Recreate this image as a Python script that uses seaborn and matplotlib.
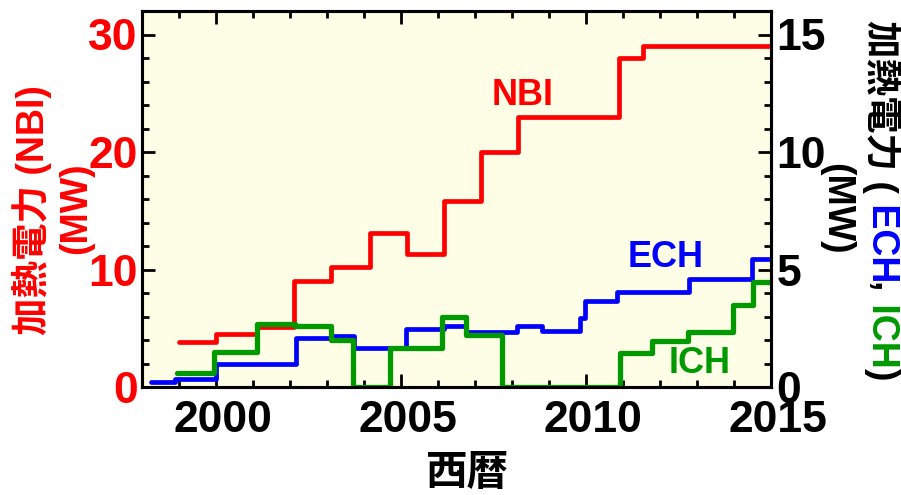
import matplotlib
matplotlib.use("Agg")
import matplotlib.pyplot as plt
from matplotlib.ticker import MultipleLocator
from matplotlib.transforms import ScaledTranslation
import seaborn as sns
import pandas as pd

# Heating power by year (step changes between campaigns)
nbi_years = [1999.0, 2000.0, 2001.1, 2002.1, 2003.1, 2004.15, 2005.15, 2006.15,
             2007.15, 2008.15, 2010.9, 2011.55, 2015.0]
nbi_power = [3.8, 4.5, 5.1, 9.0, 10.2, 13.1, 11.3, 15.8, 20.0, 23.0, 28.0, 29.0, 29.0]

ech_years = [1998.25, 1998.9, 2000.0, 2002.15, 2003.13, 2003.73, 2005.13, 2006.16,
             2006.77, 2008.13, 2008.82, 2009.84, 2009.97, 2010.83, 2012.78, 2014.48, 2015.0]
ech_power = [0.23, 0.34, 0.98, 2.09, 2.18, 1.67, 2.47, 2.6, 2.33, 2.6, 2.38, 2.95,
             3.66, 4.03, 4.58, 5.45, 5.45]

ich_years = [1998.95, 1999.95, 2001.11, 2002.14, 2003.10, 2003.71, 2004.70, 2006.12,
             2006.77, 2007.74, 2010.92, 2011.79, 2012.76, 2013.96, 2014.5, 2015.0]
ich_power = [0.58, 1.48, 2.67, 2.6, 2.0, 0.0, 1.67, 2.99, 2.21, 0.0, 1.46, 1.96,
             2.35, 3.49, 4.48, 4.48]

RED, BLUE, GREEN = "#ff0000", "#0000ff", "#009900"
BG = "#fefee6"
LATIN = "Liberation Sans"
MIXED = ["Liberation Sans", "Noto Sans CJK JP"]

sns.set_style("ticks")
plt.rcParams["font.family"] = MIXED
plt.rcParams["font.weight"] = "bold"
plt.rcParams["text.color"] = "black"
plt.rcParams["xtick.color"] = "black"
plt.rcParams["ytick.color"] = "black"

fig = plt.figure(figsize=(9.01, 4.95), dpi=100)
ax = fig.add_axes([142 / 901, 1 - 387 / 495, 629 / 901, 376 / 495])
ax.set_facecolor(BG)
ax2 = ax.twinx()

nbi = pd.DataFrame({"year": nbi_years, "power": nbi_power})
ech = pd.DataFrame({"year": ech_years, "power": ech_power})
ich = pd.DataFrame({"year": ich_years, "power": ich_power})

lw = 3.4
sns.lineplot(data=nbi, x="year", y="power", ax=ax, color=RED, lw=lw,
             drawstyle="steps-post", estimator=None, sort=False)
sns.lineplot(data=ech, x="year", y="power", ax=ax2, color=BLUE, lw=lw,
             drawstyle="steps-post", estimator=None, sort=False)
sns.lineplot(data=ich, x="year", y="power", ax=ax2, color=GREEN, lw=lw + 0.4,
             drawstyle="steps-post", estimator=None, sort=False)

ax.set_xlim(1998, 2015)
ax.set_ylim(0, 32)
ax2.set_ylim(0, 16)
ax.set_xlabel("")
ax.set_ylabel("")
ax2.set_xlabel("")
ax2.set_ylabel("")

ax.xaxis.set_major_locator(MultipleLocator(5))
ax.xaxis.set_minor_locator(MultipleLocator(1))
ax.yaxis.set_major_locator(MultipleLocator(10))
ax.yaxis.set_minor_locator(MultipleLocator(2))
ax2.yaxis.set_major_locator(MultipleLocator(5))
ax2.yaxis.set_minor_locator(MultipleLocator(1))

for a in (ax, ax2):
    for s in a.spines.values():
        s.set_linewidth(2.2)
        s.set_color("black")

ax.tick_params(axis="x", which="both", direction="in", top=True, bottom=True,
               width=2.0, color="black", labelcolor="black")
ax.tick_params(axis="x", which="major", length=9.5, pad=9)
ax.tick_params(axis="x", which="minor", length=5)
ax.tick_params(axis="y", which="both", direction="in", left=True, right=False,
               width=2.0, color="black", labelcolor=RED)
ax.tick_params(axis="y", which="major", length=9.5, pad=3)
ax.tick_params(axis="y", which="minor", length=5)
ax2.tick_params(axis="y", which="both", direction="in", right=True, left=False,
                width=2.0, color="black", labelcolor="black")
ax2.tick_params(axis="y", which="major", length=9.5, pad=4)
ax2.tick_params(axis="y", which="minor", length=5)

shift = ScaledTranslation(7 / 100, 0, fig.dpi_scale_trans)
for lab in ax.get_xticklabels():
    lab.set_fontsize(32)
    lab.set_fontweight("bold")
    lab.set_family(LATIN)
    lab.set_transform(lab.get_transform() + shift)
for lab in ax.get_yticklabels() + ax2.get_yticklabels():
    lab.set_fontsize(32)
    lab.set_fontweight("bold")
    lab.set_family(LATIN)

# Series names
label_kw = dict(fontsize=26, fontweight="bold", family=LATIN, ha="center", va="baseline")
ax.text(2008.3, 24.0, "NBI", color=RED, **label_kw)
ax2.text(2012.16, 5.11, "ECH", color=BLUE, **label_kw)
ax2.text(2013.08, 0.6, "ICH", color=GREEN, **label_kw)

# Axis titles
fig.text(467.5 / 901, 1 - 474 / 495, "西暦", fontsize=30, fontweight="bold",
         family=MIXED, ha="center", va="center", color="black")

ylab_kw = dict(fontsize=27, fontweight="bold", family=MIXED, ha="center", va="center")
fig.text(32 / 901, 1 - 210 / 495, "加熱電力 (NBI)", rotation=90, color=RED, **ylab_kw)
fig.text(76 / 901, 1 - 208 / 495, "(MW)", rotation=90, color=RED, **ylab_kw)

fig.text(836 / 901, 1 - 209 / 495, "(MW)", rotation=-90, color="black", **ylab_kw)
pieces = [("加熱電力 (", "black"), (" ECH", BLUE), (",", "black"),
          (" ICH", GREEN), (")", "black")]
prev = fig.text(882 / 901, 1 - 20 / 495, pieces[0][0], rotation=-90,
                color=pieces[0][1], fontsize=27, fontweight="bold",
                family=MIXED, ha="center", va="top")
for txt, col in pieces[1:]:
    prev = ax.annotate(txt, xy=(0.5, 0), xycoords=prev, rotation=-90, color=col,
                       fontsize=27, fontweight="bold", family=MIXED,
                       ha="center", va="top", annotation_clip=False)

fig.savefig("out.png", dpi=100)
